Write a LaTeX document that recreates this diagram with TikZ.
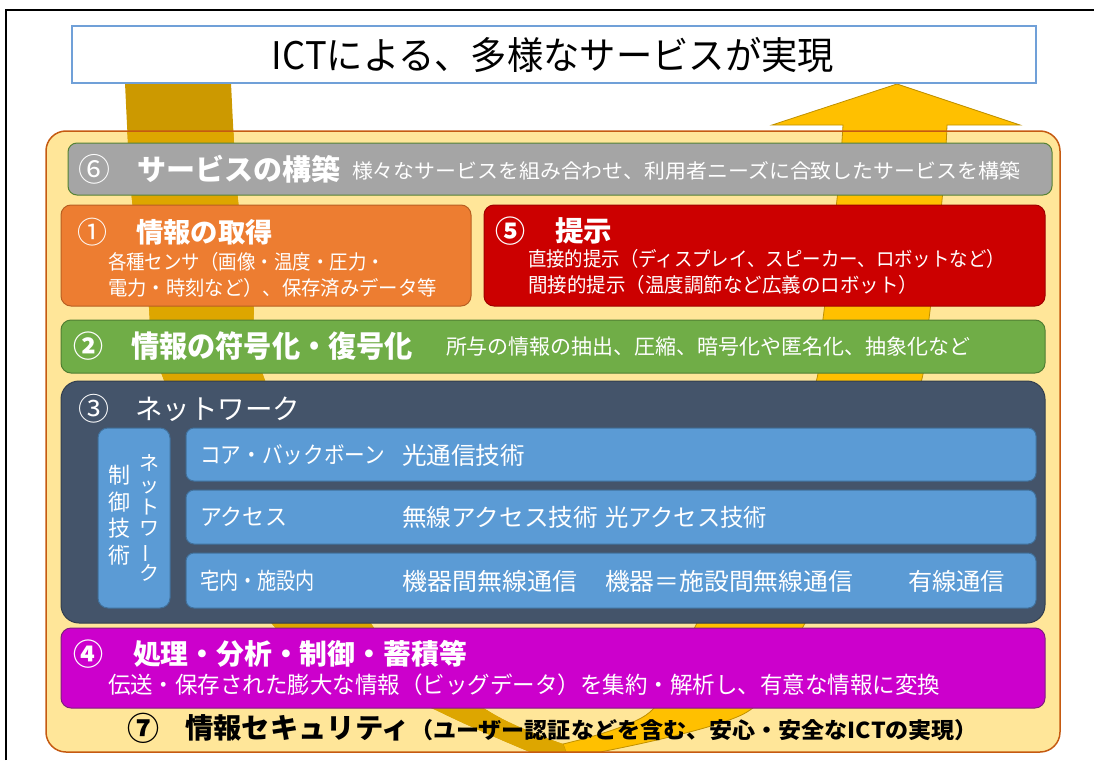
\documentclass[tikz,border=0pt]{standalone}
\usepackage{fontspec}
\usepackage{graphicx}
\setmainfont{Noto Sans CJK JP}
\newcommand{\fw}[3]{\resizebox{#1pt}{\height}{\fontsize{#2}{#2}\selectfont #3}}
\newcommand{\fs}[2]{{\fontsize{#1}{#1}\selectfont #2}}
\definecolor{titleblue}{HTML}{70A0D8}
\definecolor{contfill}{HTML}{FFE699}
\definecolor{contline}{HTML}{C55A11}
\definecolor{golddk}{HTML}{CC9900}
\definecolor{golddkin}{HTML}{DDA600}
\definecolor{gold}{HTML}{FFC000}
\definecolor{goldline}{HTML}{BF9000}
\definecolor{grayp}{HTML}{A5A5A5}
\definecolor{grayline}{HTML}{548235}
\definecolor{orangep}{HTML}{ED7D31}
\definecolor{orangeline}{HTML}{B85F22}
\definecolor{redp}{HTML}{CC0000}
\definecolor{redline}{HTML}{A00000}
\definecolor{greenp}{HTML}{70AD47}
\definecolor{greenline}{HTML}{507E32}
\definecolor{netp}{HTML}{44546A}
\definecolor{netline}{HTML}{323E4F}
\definecolor{bluep}{HTML}{5B9BD5}
\definecolor{blueline}{HTML}{41719C}
\definecolor{magp}{HTML}{CC00CC}
\definecolor{magline}{HTML}{7F1F7F}
\begin{document}
\begin{tikzpicture}[x=1pt,y=-1pt,
  every node/.style={inner sep=0pt, outer sep=0pt},
  panel/.style={rectangle, rounded corners=10pt, line width=1pt, anchor=north west},
  wt/.style={anchor=west, text=white},
  bt/.style={anchor=west, text=black}]
\useasboundingbox (0,0) rectangle (1094,760);
% container fill
\node[panel, rounded corners=20pt, fill=contfill, minimum width=1014pt, minimum height=621pt] (cont) at (46,131) {};
% ribbon
\begin{scope}
\clip (0,0) rectangle (1094,751);
\fill[gold, draw=goldline, line width=0.8pt]
  plot[smooth, tension=0.5] coordinates {(563,744) (650,712) (696,625) (807,408) (822,326) (838,190) (843,125)}
  -- (772,125) -- (897,84) -- (1020,125) -- (947,125)
  -- plot[smooth, tension=0.5] coordinates {(947,125) (943,190) (928,326) (912,408) (804,625) (747,712) (600,752)}
  -- (566,752) -- cycle;
\fill[golddk]
  plot[smooth, tension=0.5] coordinates {(125,60) (125,83) (132,200) (148,300) (162,375) (273,625) (440,712) (530,752)}
  -- (566,752) -- (563,744)
  -- plot[smooth, tension=0.5] coordinates {(563,744) (490,712) (372,625) (263,375) (253,300) (238,200) (231,83) (231,60)}
  -- cycle;
\end{scope}
\begin{scope}
\clip[rounded corners=20pt] (cont.north west) rectangle (cont.south east);
\fill[golddkin]
  plot[smooth, tension=0.5] coordinates {(125,60) (125,83) (132,200) (148,300) (162,375) (273,625) (440,712) (530,752)}
  -- (566,752) -- (563,744)
  -- plot[smooth, tension=0.5] coordinates {(563,744) (490,712) (372,625) (263,375) (253,300) (238,200) (231,83) (231,60)}
  -- cycle;
\end{scope}
\draw[contline, line width=1.5pt, rounded corners=20pt] (cont.north west) rectangle (cont.south east);
% title
\node[panel, rounded corners=0pt, draw=titleblue, line width=1.3pt, fill=white, minimum width=964pt, minimum height=57pt] (title) at (72,26) {};
\node[anchor=center] (titletxt) at (553,55) {\fw{562}{38}{ICTによる、多様なサービスが実現}};
% panel 6
\node[panel, rounded corners=9pt, fill=grayp, draw=grayline, minimum width=984pt, minimum height=52pt] (p6) at (68,143) {};
\node[wt] (n6) at (78,169) {\fs{32}{⑥}};
\node[wt] (n6t) at (137,169) {\fw{203}{29}{\bfseries サービスの構築}};
\node[wt] (n6s) at (352,171) {\fw{668}{20}{様々なサービスを組み合わせ、利用者ニーズに合致したサービスを構築}};
% panel 1
\node[panel, fill=orangep, draw=orangeline, minimum width=410pt, minimum height=101pt] (p1) at (61,205) {};
\node[wt] (n1) at (77,232) {\fs{30}{①}};
\node[wt] (n1t) at (136,232) {\fw{137}{27}{\bfseries 情報の取得}};
\node[wt] (n1a) at (108,262) {\fw{277}{20}{各種センサ（画像・温度・圧力・}};
\node[wt] (n1b) at (108,288) {\fw{329}{20}{電力・時刻など）、保存済みデータ等}};
% panel 5
\node[panel, fill=redp, draw=redline, minimum width=561pt, minimum height=101pt] (p5) at (484,205) {};
\node[wt] (n5) at (495,231) {\fs{30}{\bfseries ⑤}};
\node[wt] (n5t) at (555,231) {\fw{57}{28}{\bfseries 提示}};
\node[wt] (n5a) at (528,259) {\fw{477}{20}{直接的提示（ディスプレイ、スピーカー、ロボットなど）}};
\node[wt] (n5b) at (528,285) {\fw{390}{20}{間接的提示（温度調節など広義のロボット）}};
% panel 2
\node[panel, fill=greenp, draw=greenline, minimum width=984pt, minimum height=53pt] (p2) at (61,320) {};
\node[wt] (n2) at (73,346) {\fs{30}{\bfseries ②}};
\node[wt] (n2t) at (131,346) {\fw{282}{30}{\bfseries 情報の符号化・復号化}};
\node[wt] (n2s) at (446,347) {\fw{524}{21}{所与の情報の抽出、圧縮、暗号化や匿名化、抽象化など}};
% panel 3 network
\node[panel, rounded corners=18pt, fill=netp, draw=netline, minimum width=984pt, minimum height=242pt] (p3) at (61,381) {};
\node[wt] (n3) at (78,409) {\fs{31}{③}};
\node[wt] (n3t) at (135,409) {\fw{165}{28}{ネットワーク}};
\node[panel, rounded corners=10pt, fill=bluep, draw=blueline, minimum width=72pt, minimum height=180pt] (pv) at (98,428) {};
\node[anchor=center, text=white, align=center, font=\fontsize{20}{21.7}\selectfont] (nvr) at (149,518) {ネ\\ッ\\ト\\ワ\\\rotatebox[origin=c]{90}{ー}\\ク};
\node[anchor=center, text=white, align=center, font=\fontsize{22}{26.5}\selectfont] (nvl) at (119,515) {制\\御\\技\\術};
\node[panel, rounded corners=8pt, fill=bluep, draw=blueline, minimum width=850pt, minimum height=53pt] (r1) at (186,428) {};
\node[panel, rounded corners=8pt, fill=bluep, draw=blueline, minimum width=850pt, minimum height=54pt] (r2) at (186,490) {};
\node[panel, rounded corners=8pt, fill=bluep, draw=blueline, minimum width=850pt, minimum height=55pt] (r3) at (186,553) {};
\node[wt] (r1a) at (200,455) {\fw{185}{23}{コア・バックボーン}};
\node[wt] (r1b) at (402,455) {\fw{123}{24}{光通信技術}};
\node[wt] (r2a) at (200,517) {\fw{87}{23}{アクセス}};
\node[wt] (r2b) at (402,517) {\fw{196}{24}{無線アクセス技術}};
\node[wt] (r2c) at (605,517) {\fw{162}{24}{光アクセス技術}};
\node[wt] (r3a) at (200,581) {\fw{115}{23}{宅内・施設内}};
\node[wt] (r3b) at (402,581) {\fw{175}{24}{機器間無線通信}};
\node[wt] (r3c) at (605,581) {\fw{248}{24}{機器＝施設間無線通信}};
\node[wt] (r3d) at (908,581) {\fw{97}{24}{有線通信}};
% panel 4
\node[panel, fill=magp, draw=magline, minimum width=984pt, minimum height=80pt] (p4) at (61,628) {};
\node[wt] (n4) at (73,654) {\fs{30}{\bfseries ④}};
\node[wt] (n4t) at (133,654) {\fw{334}{28}{\bfseries 処理・分析・制御・蓄積等}};
\node[wt] (n4s) at (108,685) {\fw{832}{23}{伝送・保存された膨大な情報（ビッグデータ）を集約・解析し、有意な情報に変換}};
% 7
\node[bt] (n7) at (127,728) {\fs{32}{\bfseries ⑦}};
\node[bt] (n7t) at (185,728) {\fw{225}{28}{\bfseries 情報セキュリティ}};
\node[bt] (n7s) at (410,730) {\fw{568}{22}{\bfseries （ユーザー認証などを含む、安心・安全なICTの実現）}};
% frame
\draw[black, line width=2.2pt] (6,760) -- (6,10) -- (1094,10);
\end{tikzpicture}
\end{document}
